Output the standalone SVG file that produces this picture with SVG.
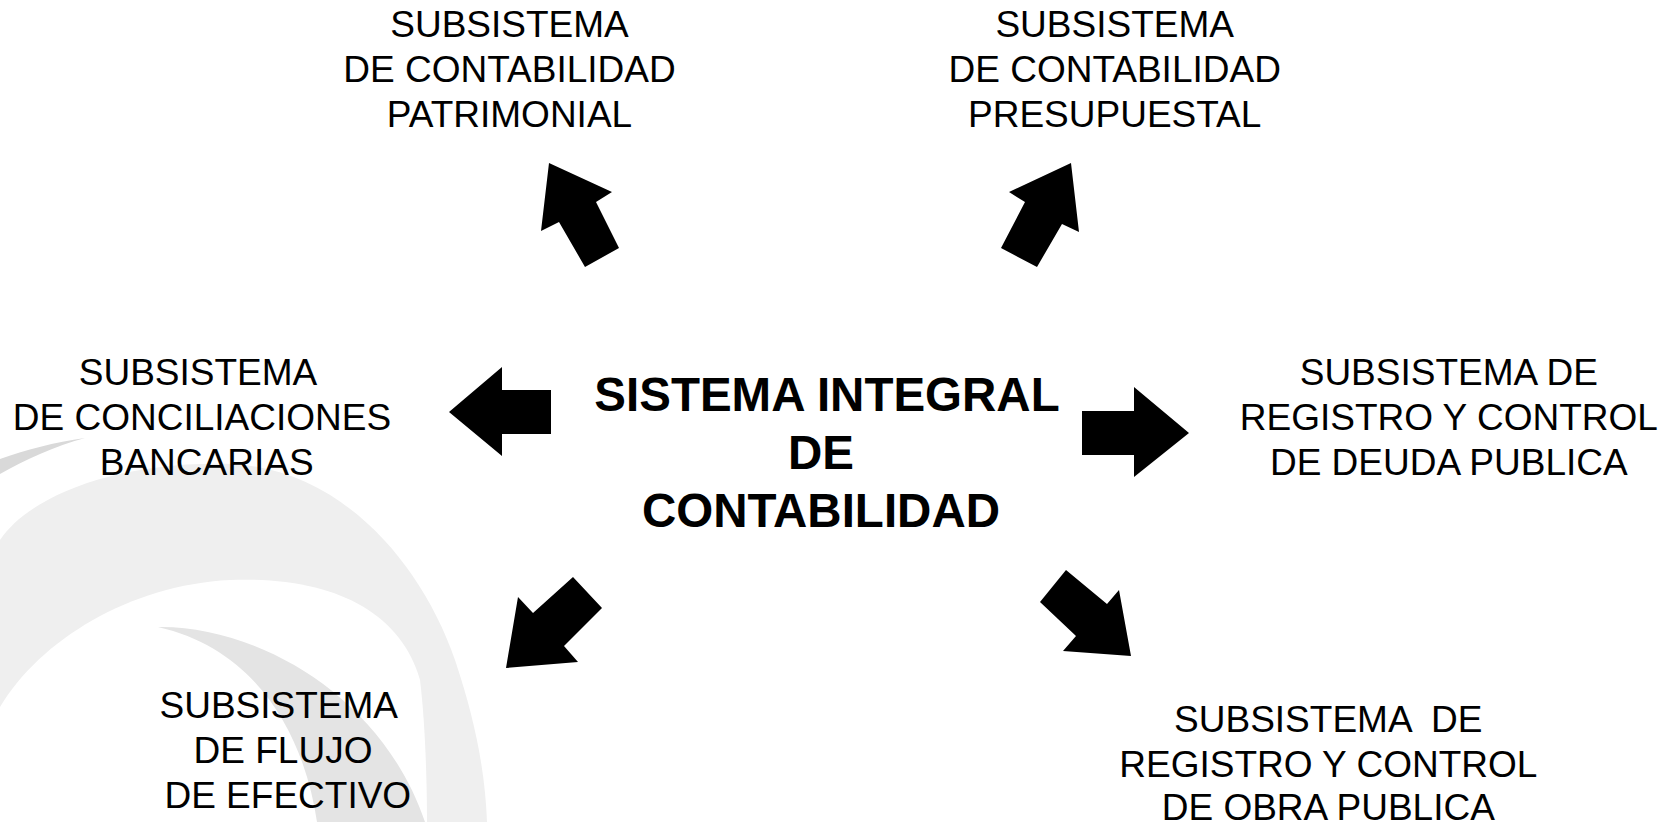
<svg xmlns="http://www.w3.org/2000/svg" width="1675" height="822" viewBox="0 0 1675 822">
<style>
.t{font-family:"Liberation Sans",Arial,sans-serif;font-size:37px;fill:#000;text-anchor:middle;white-space:pre}
.b{font-family:"Liberation Sans",Arial,sans-serif;font-size:47.5px;font-weight:bold;fill:#000;text-anchor:middle}
.arr{fill:#000;stroke:none}
</style>
<rect width="1675" height="822" fill="#fff"/>
<g id="background">
<path d="M0,540 C30,495 120,460 233,464 C340,470 420,560 455,660 C475,720 485,770 487,822 L0,822 Z" fill="#efefef"/>
<path d="M0,707 C40,640 130,585 230,580 C330,576 400,610 420,680 C425,720 427,780 427,822 L0,822 Z" fill="#fff"/>
<path d="M158,627 C250,625 380,690 425,822 L317,822 C305,740 260,650 158,627 Z" fill="#e4e4e4"/>
<path d="M85,438 C55,442 25,450 0,459 L0,474 C25,460 55,446 85,438 Z" fill="#d9d9d9"/>
</g>
<g id="center">
<text class="b" x="827" y="411">SISTEMA INTEGRAL</text>
<text class="b" x="821" y="469">DE</text>
<text class="b" x="821" y="527">CONTABILIDAD</text>
</g>
<g id="patrimonial">
<text class="t" x="509.5" y="37">SUBSISTEMA</text>
<text class="t" x="509.5" y="82">DE CONTABILIDAD</text>
<text class="t" x="509.5" y="127">PATRIMONIAL</text>
</g>
<g id="presupuestal">
<text class="t" x="1114.7" y="37">SUBSISTEMA</text>
<text class="t" x="1114.7" y="82">DE CONTABILIDAD</text>
<text class="t" x="1114.7" y="127">PRESUPUESTAL</text>
</g>
<g id="conciliaciones">
<text class="t" x="198" y="385">SUBSISTEMA</text>
<text class="t" x="202" y="430">DE CONCILIACIONES</text>
<text class="t" x="206.7" y="475">BANCARIAS</text>
</g>
<g id="deuda">
<text class="t" x="1448.8" y="385">SUBSISTEMA DE</text>
<text class="t" x="1448.8" y="430">REGISTRO Y CONTROL</text>
<text class="t" x="1448.8" y="475">DE DEUDA PUBLICA</text>
</g>
<g id="flujo">
<text class="t" x="278.8" y="718">SUBSISTEMA</text>
<text class="t" x="283" y="763">DE FLUJO</text>
<text class="t" x="287.8" y="808">DE EFECTIVO</text>
</g>
<g id="obra">
<text class="t" x="1328.3" y="732">SUBSISTEMA  DE</text>
<text class="t" x="1328.3" y="777">REGISTRO Y CONTROL</text>
<text class="t" x="1328.3" y="820">DE OBRA PUBLICA</text>
</g>
<g id="connectors">
<polygon class="arr" points="549,163 612,192 596,202 619,248 585,267 559,222 541,231"/>
<polygon class="arr" points="1071,163 1079,232 1062,224 1037,267 1001,248 1025,202 1009,192"/>
<polygon class="arr" points="449,412 502,367 502,390 551,390 551,434 502,434 502,456"/>
<polygon class="arr" points="1082,411 1134,411 1134,387 1189,433 1134,477 1134,455 1082,455"/>
<polygon class="arr" points="573,577 602,608 564,646 578,662 506,668 518,597 533,613"/>
<polygon class="arr" points="1066,570 1040,602 1076,636 1063,651 1131,656 1119,590 1107,604"/>
</g>
</svg>
